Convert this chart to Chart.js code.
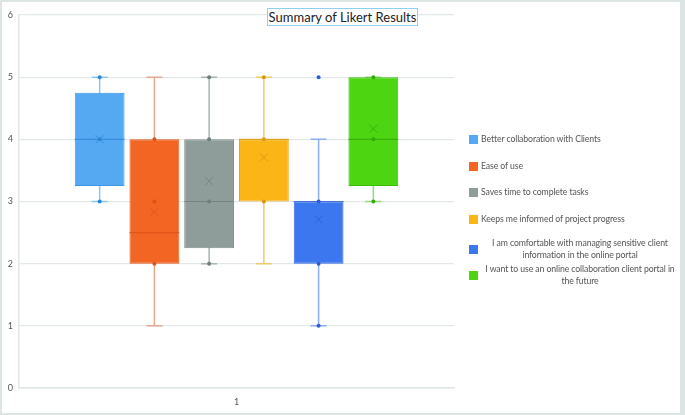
<!DOCTYPE html>
<html>
<head>
<meta charset="utf-8">
<script src="https://cdn.jsdelivr.net/npm/chart.js@4.4.0/dist/chart.umd.min.js"></script>
<style>
  body { margin: 0; background: #fff; }
  #wrap { position: relative; width: 685px; height: 415px; font-family: Lato, "Open Sans", sans-serif; }
  #frame { position: absolute; left: 0; top: 0; width: 685px; height: 415px; box-sizing: border-box;
           border: 2px solid #dce4e4; border-right-width: 5px; pointer-events: none; }
  canvas { position: absolute; left: 0; top: 0; }
  #title { position: absolute; left: 267px; top: 8px; width: 151px; height: 18px; box-sizing: border-box;
           border: 1px solid #8fd0ee; background: #fff; font-size: 13px; color: #222; text-align: center;
           line-height: 16px; }
  #legend { position: absolute; left: 469px; top: 0; width: 210px; font-size: 8.7px; color: #555; letter-spacing: -0.1px; }
  .item { position: absolute; left: 0; width: 210px; display: flex; align-items: center; }
  .swatch { width: 9px; height: 9px; flex: none; margin-right: 3px; }
  .text { flex: 1; text-align: center; line-height: 12px; }
  .text.left { text-align: left; }
</style>
</head>
<body>
<div id="wrap">
  <canvas id="chart" width="685" height="415"></canvas>
  <div id="title">Summary of Likert Results</div>
  <div id="legend"></div>
  <div id="frame"></div>
</div>
<script>
const categories = ["1"];
const seriesNames = [
  "Better collaboration with Clients",
  "Ease of use",
  "Saves time to complete tasks",
  "Keeps me informed of project progress",
  "I am comfortable with managing sensitive client information in the online portal",
  "I want to use an online collaboration client portal in the future"
];
const minValues = [3, 1, 2, 2, 1, 3];
const q1Values = [3.25, 2, 2.25, 3, 2, 3.25];
const medianValues = [4, 2.5, 3, 4, 3, 4];
const q3Values = [4.75, 4, 4, 4, 3, 5];
const maxValues = [5, 5, 5, 5, 4, 5];
const meanValues = [4, 2.83, 3.33, 3.71, 2.71, 4.17];
const pointValues = [[3, 4, 5], [2, 3, 4], [2, 3, 4, 5], [3, 4, 5], [1, 2, 3, 5], [3, 4, 5]];
const yTicks = [0, 1, 2, 3, 4, 5, 6];

const boxColors = ["#54a9f2", "#f26522", "#8f9d9a", "#fbb516", "#3d77f0", "#4dd511"];
const borderColors = ["#3f97e2", "#e4561a", "#7e8e8b", "#e9a20c", "#3168dc", "#3eba0c"];
const whiskerColors = ["#8ec5ef", "#e2a892", "#a8b5b3", "#efcb6c", "#8daef0", "#95d87e"];
const darkColors = ["#2f86d4", "#d9531a", "#6f7f7c", "#d9960b", "#2a5fd4", "#35a80a"];

// legend as html so the long labels can wrap
const legendTops = [133, 160, 186, 213, 237, 263];
const legendEl = document.getElementById("legend");
seriesNames.forEach((name, i) => {
  const item = document.createElement("div");
  item.className = "item";
  item.style.top = legendTops[i] + "px";
  const sw = document.createElement("div");
  sw.className = "swatch";
  sw.style.background = boxColors[i];
  const tx = document.createElement("div");
  tx.className = i < 4 ? "text left" : "text";
  tx.textContent = name;
  item.appendChild(sw);
  item.appendChild(tx);
  legendEl.appendChild(item);
});

// whiskers, medians, means and points drawn with the y scale
const boxExtras = {
  id: "boxExtras",
  beforeDatasetsDraw(chart) {
    const ctx = chart.ctx;
    const y = chart.scales.y;
    seriesNames.forEach((name, i) => {
      const bar = chart.getDatasetMeta(i).data[0];
      ctx.save();
      ctx.strokeStyle = whiskerColors[i];
      ctx.lineWidth = 1.5;
      ctx.beginPath();
      ctx.moveTo(bar.x, y.getPixelForValue(minValues[i]));
      ctx.lineTo(bar.x, y.getPixelForValue(maxValues[i]));
      [minValues[i], maxValues[i]].forEach((v) => {
        const py = y.getPixelForValue(v);
        ctx.moveTo(bar.x - 8, py);
        ctx.lineTo(bar.x + 8, py);
      });
      ctx.stroke();
      ctx.restore();
    });
  },
  afterDatasetsDraw(chart) {
    const ctx = chart.ctx;
    const y = chart.scales.y;
    seriesNames.forEach((name, i) => {
      const bar = chart.getDatasetMeta(i).data[0];
      const half = bar.width / 2;
      ctx.save();
      // median
      ctx.strokeStyle = darkColors[i];
      ctx.globalAlpha = 0.8;
      ctx.lineWidth = 1.2;
      const my = y.getPixelForValue(medianValues[i]);
      ctx.beginPath();
      ctx.moveTo(bar.x - half, my);
      ctx.lineTo(bar.x + half, my);
      ctx.stroke();
      // mean
      const ay = y.getPixelForValue(meanValues[i]);
      ctx.lineWidth = 1;
      ctx.beginPath();
      ctx.moveTo(bar.x - 4, ay - 4);
      ctx.lineTo(bar.x + 4, ay + 4);
      ctx.moveTo(bar.x + 4, ay - 4);
      ctx.lineTo(bar.x - 4, ay + 4);
      ctx.stroke();
      // points
      ctx.globalAlpha = 1;
      ctx.fillStyle = darkColors[i];
      pointValues[i].forEach((v) => {
        ctx.beginPath();
        ctx.arc(bar.x, y.getPixelForValue(v), 2, 0, Math.PI * 2);
        ctx.fill();
      });
      ctx.restore();
    });
  }
};

const datasets = seriesNames.map((name, i) => ({
  label: name,
  data: [[q1Values[i], q3Values[i]]],
  backgroundColor: boxColors[i],
  borderColor: borderColors[i],
  borderWidth: 1,
  borderSkipped: false,
  barPercentage: 0.91,
  categoryPercentage: 0.755
}));

new Chart(document.getElementById("chart"), {
  type: "bar",
  data: { labels: categories, datasets: datasets },
  plugins: [boxExtras],
  options: {
    responsive: false,
    animation: false,
    layout: { padding: { top: 15, right: 231, left: 0, bottom: 0 } },
    plugins: {
      legend: { display: false },
      tooltip: { enabled: false }
    },
    scales: {
      x: {
        grid: { display: false },
        border: { display: true, color: "#e1e7e7", width: 1.5 },
        ticks: { color: "#555", font: { size: 9, family: "Lato" }, padding: 1 },
        afterFit(scale) { scale.height = 27; }
      },
      y: {
        min: 0,
        max: 6,
        afterBuildTicks(scale) { scale.ticks = yTicks.map((v) => ({ value: v })); },
        grid: { color: "#e3e9e9", lineWidth: 1.2, drawTicks: false },
        border: { display: true, color: "#e1e7e7", width: 1.5 },
        ticks: { color: "#555", font: { size: 9, family: "Lato" }, padding: 6 },
        afterFit(scale) { scale.width = 19; }
      }
    }
  }
});
</script>
</body>
</html>
